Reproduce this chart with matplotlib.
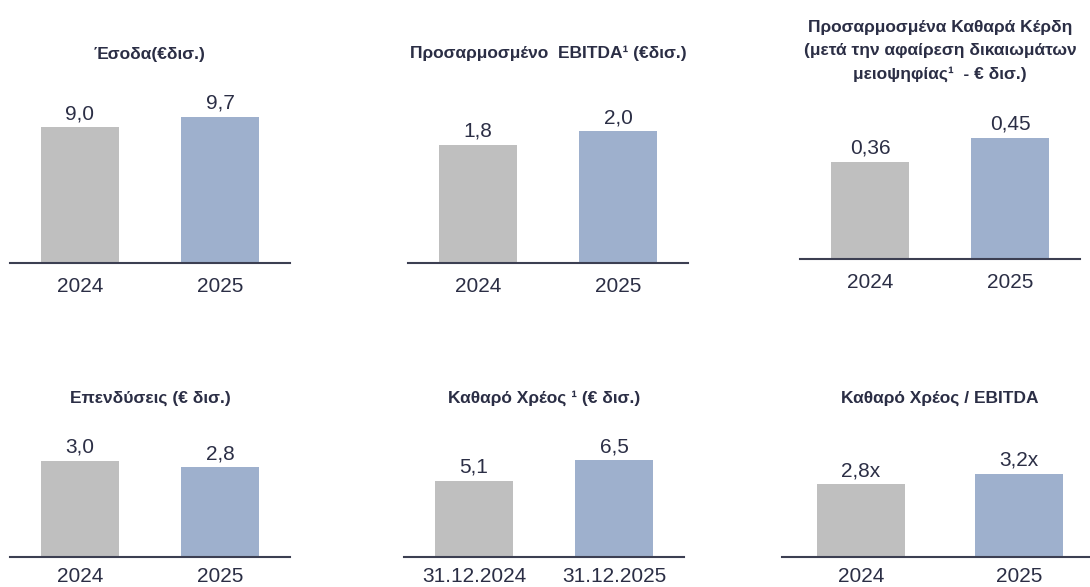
import matplotlib.pyplot as plt

plt.rcParams['font.family'] = ['Liberation Sans', 'DejaVu Sans']

# ---- data ----
years = ['2024', '2025']
dates = ['31.12.2024', '31.12.2025']

revenue = [9.0, 9.7]
adj_ebitda = [1.8, 2.0]
adj_net_profit = [0.36, 0.45]
capex = [3.0, 2.8]
net_debt = [5.1, 6.5]
debt_to_ebitda = [2.8, 3.2]

titles = [
    'Έσοδα(€δισ.)',
    'Προσαρμοσμένο  EBITDA¹ (€δισ.)',
    'Προσαρμοσμένα Καθαρά Κέρδη\n(μετά την αφαίρεση δικαιωμάτων\nμειοψηφίας¹  - € δισ.)',
    'Επενδύσεις (€ δισ.)',
    'Καθαρό Χρέος ¹ (€ δισ.)',
    'Καθαρό Χρέος / EBITDA',
]

TEXT = '#2b2e45'
GREY = '#bfbfbf'
BLUE = '#9eb0cd'
LINE = '#3c3f52'

W, H = 1090, 587
fig = plt.figure(figsize=(W / 100, H / 100), dpi=100)

# (left px, right px, baseline px, axes height px, y max, title y px, bar width, tick pad)
panels = [
    (revenue, years, '{:.1f}', 10, 290, 263, 200, 13.26, 55, 0.557, 10),
    (adj_ebitda, years, '{:.1f}', 408, 688, 263, 200, 3.04, 53, 0.557, 10),
    (adj_net_profit, years, '{:.2f}', 800, 1080, 259, 200, 0.743, 51, 0.557, 10),
    (capex, years, '{:.1f}', 10, 290, 557, 150, 4.69, 398, 0.557, 7.5),
    (net_debt, dates, '{:.1f}', 404, 684, 557, 150, 10.07, 398, 0.557, 7.5),
    (debt_to_ebitda, years, '{:.1f}x', 782, 1098, 557, 150, 5.77, 398, 0.563, 7.5),
]

for i, (vals, cats, fmt, x0, x1, base, hpx, ymax, ty, bw, tpad) in enumerate(panels):
    ax = fig.add_axes([x0 / W, 1 - base / H, (x1 - x0) / W, hpx / H])
    ax.patch.set_alpha(0)
    xs = range(len(vals))
    ax.bar(xs, vals, width=bw, color=[GREY, BLUE])
    for x, v in zip(xs, vals):
        ax.annotate(fmt.format(v).replace('.', ','), (x, v), xytext=(0, 3),
                    textcoords='offset points', ha='center', va='bottom',
                    fontsize=15, color=TEXT)
    ax.set_xlim(-0.5, 1.5)
    ax.set_ylim(0, ymax)
    ax.set_xticks(list(xs))
    ax.set_xticklabels(cats, fontsize=15, color=TEXT)
    ax.tick_params(axis='x', length=0, pad=tpad)
    ax.set_yticks([])
    for s in ['top', 'left', 'right']:
        ax.spines[s].set_visible(False)
    ax.spines['bottom'].set_color(LINE)
    ax.spines['bottom'].set_linewidth(1.5)

    # title centred over the middle of the two bars (x = 0.5 in data units)
    ax.text(0.5, 1 - (ty - (base - hpx)) / hpx, titles[i], transform=ax.get_xaxis_transform(),
            ha='center', va='center', fontsize=12.5, fontweight='bold', color=TEXT,
            linespacing=1.7)

fig.savefig('out.png', dpi=100)
